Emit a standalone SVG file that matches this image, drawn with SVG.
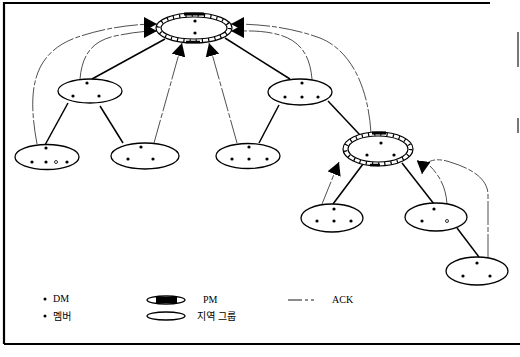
<svg xmlns="http://www.w3.org/2000/svg" width="520" height="357" viewBox="0 0 520 357">
<style>
.grp{fill:#fff;stroke:#000;stroke-width:1.3}
.ring{fill:#fff;stroke:#000;stroke-width:1.2}
.band{fill:none;stroke:#000;stroke-width:3.5;stroke-dasharray:1.2 5}
.dot{fill:#000}
.hol{fill:#fff;stroke:#000;stroke-width:0.8}
.tree{stroke:#000;stroke-width:1.5;fill:none}
.ack{stroke:#222;stroke-width:0.8;fill:none;stroke-dasharray:24 2 5 2}
.lbl{font-family:"Liberation Serif","Noto Sans CJK KR",serif;font-size:10px;fill:#000}
</style>
<defs>
<marker id="ah" markerUnits="userSpaceOnUse" markerWidth="16" markerHeight="14" refX="13" refY="7" orient="auto">
<path d="M0,0 L13,7 L0,14 Z" fill="#000"/>
</marker>
</defs>
<rect width="520" height="357" fill="#fff"/>
<g id="frame" fill="none" stroke="#000">
<path d="M4,344 L4,3 L490,3" stroke-width="2.2"/>
<path d="M4,344 L520,344" stroke-width="2.2"/>
<rect x="517" y="32" width="2" height="35" fill="#777" stroke="none"/>
<rect x="517" y="118" width="2" height="15" fill="#777" stroke="none"/>
</g>
<g id="connectors">
<path class="tree" d="M165,39 L92,79"/>
<path class="tree" d="M68,103 L45,145"/>
<path class="tree" d="M100,106 L123,143"/>
<path class="tree" d="M225,38 L290,79"/>
<path class="tree" d="M279,105 L259,143"/>
<path class="tree" d="M328,101 L360,135"/>
<path class="tree" d="M363,164 L333,204"/>
<path class="tree" d="M402,163 L434,204"/>
<path class="tree" d="M457,228 L479,257"/>
<path class="ack" marker-end="url(#ah)" d="M37,144 C28,95 30,55 75,38 C100,29 130,24 157,24"/>
<path class="ack" marker-end="url(#ah)" d="M80,79 C82,55 92,41 115,36 C130,33 142,31 157,31"/>
<path class="ack" marker-end="url(#ah)" d="M154,143 L182,43"/>
<path class="ack" marker-end="url(#ah)" d="M237,143 L209,43"/>
<path class="ack" marker-end="url(#ah)" d="M312,79 C310,55 300,41 280,35 C262,30 248,31 231,31"/>
<path class="ack" marker-end="url(#ah)" d="M371,133 C368,85 350,50 320,38 C290,27 260,24 231,24"/>
<path class="ack" marker-end="url(#ah)" d="M322,204 L339,162"/>
<path class="ack" d="M447,204 C446,188 440,176 430,166"/>
<path class="ack" marker-end="url(#ah)" d="M488,258 L488,195 C488,178 470,168 450,162 C438,158 424,158 422,174"/>
</g>
<g id="root">
<ellipse class="ring" cx="194" cy="28" rx="38" ry="15"/>
<ellipse class="band" cx="194" cy="28" rx="35.5" ry="13"/>
<path d="M184,14 L204,14" stroke="#000" stroke-width="3"/>
<path d="M186,42 L200,42" stroke="#000" stroke-width="2.5"/>
<ellipse class="ring" cx="194" cy="28" rx="33" ry="11"/>
<circle class="dot" cx="195" cy="21" r="1.6"/>
<circle class="dot" cx="195" cy="33" r="1.6"/>
</g>
<g id="nodeA">
<ellipse class="grp" cx="90" cy="91" rx="32" ry="12"/>
<circle class="dot" cx="87" cy="83" r="1.6"/>
<circle class="dot" cx="73" cy="96" r="1.6"/>
<circle class="dot" cx="99" cy="96" r="1.6"/>
</g>
<g id="nodeA1">
<ellipse class="grp" cx="47" cy="157" rx="32" ry="12.5"/>
<circle class="dot" cx="46" cy="148" r="1.6"/>
<circle class="dot" cx="32" cy="162" r="1.6"/>
<circle class="dot" cx="46" cy="162" r="1.6"/>
<circle class="hol" cx="56" cy="162" r="1.5"/>
<circle class="dot" cx="67" cy="162" r="1.6"/>
</g>
<g id="nodeA2">
<ellipse class="grp" cx="145" cy="156" rx="34" ry="13"/>
<circle class="dot" cx="141" cy="147" r="1.6"/>
<circle class="dot" cx="128" cy="159" r="1.6"/>
<circle class="dot" cx="153" cy="159" r="1.6"/>
</g>
<g id="nodeB">
<ellipse class="grp" cx="300" cy="92" rx="32" ry="13"/>
<circle class="dot" cx="302" cy="83" r="1.6"/>
<circle class="dot" cx="285" cy="97" r="1.6"/>
<circle class="dot" cx="302" cy="97" r="1.6"/>
<circle class="dot" cx="318" cy="97" r="1.6"/>
</g>
<g id="nodeB1">
<ellipse class="grp" cx="248" cy="156" rx="32" ry="12.5"/>
<circle class="dot" cx="249" cy="147" r="1.6"/>
<circle class="dot" cx="232" cy="159" r="1.6"/>
<circle class="dot" cx="249" cy="159" r="1.6"/>
<circle class="dot" cx="267" cy="159" r="1.6"/>
</g>
<g id="nodeC">
<ellipse class="ring" cx="378" cy="149" rx="35" ry="17"/>
<ellipse class="band" cx="378" cy="149" rx="32.5" ry="15"/>
<path d="M372,133 L386,133" stroke="#000" stroke-width="3"/>
<path d="M370,165 L380,165" stroke="#000" stroke-width="2.5"/>
<ellipse class="ring" cx="378" cy="149" rx="30" ry="13"/>
<circle class="dot" cx="381" cy="143" r="1.6"/>
<circle class="dot" cx="367" cy="155" r="1.6"/>
<circle class="dot" cx="394" cy="155" r="1.6"/>
</g>
<g id="nodeC1">
<ellipse class="grp" cx="332" cy="218" rx="31" ry="14"/>
<circle class="dot" cx="334" cy="209" r="1.6"/>
<circle class="dot" cx="317" cy="221" r="1.6"/>
<circle class="dot" cx="334" cy="221" r="1.6"/>
<circle class="dot" cx="351" cy="221" r="1.6"/>
</g>
<g id="nodeC2">
<ellipse class="grp" cx="436" cy="217" rx="31" ry="14"/>
<circle class="dot" cx="434" cy="209" r="1.6"/>
<circle class="dot" cx="422" cy="221" r="1.6"/>
<circle class="hol" cx="447" cy="221" r="1.5"/>
</g>
<g id="nodeC3">
<ellipse class="grp" cx="477" cy="271" rx="31" ry="14"/>
<circle class="dot" cx="477" cy="263" r="1.6"/>
<circle class="dot" cx="463" cy="276" r="1.6"/>
<circle class="dot" cx="490" cy="276" r="1.6"/>
</g>
<g id="legend">
<circle class="dot" cx="45" cy="299" r="1.5"/>
<text class="lbl" x="53" y="302">DM</text>
<circle class="dot" cx="45" cy="316" r="1.5"/>
<text class="lbl" x="53" y="320">멤버</text>
<ellipse class="grp" cx="166" cy="300" rx="19" ry="4"/>
<rect x="156" y="297" width="21" height="6" fill="#000"/>
<text class="lbl" x="203" y="303">PM</text>
<ellipse class="grp" cx="166" cy="316" rx="19" ry="4"/>
<text class="lbl" x="197" y="320">지역 그룹</text>
<path d="M288,300 L302,300 M305,300 L308,300 M311,300 L314,300" stroke="#000" stroke-width="0.9"/>
<text class="lbl" x="332" y="303">ACK</text>
</g>
</svg>
